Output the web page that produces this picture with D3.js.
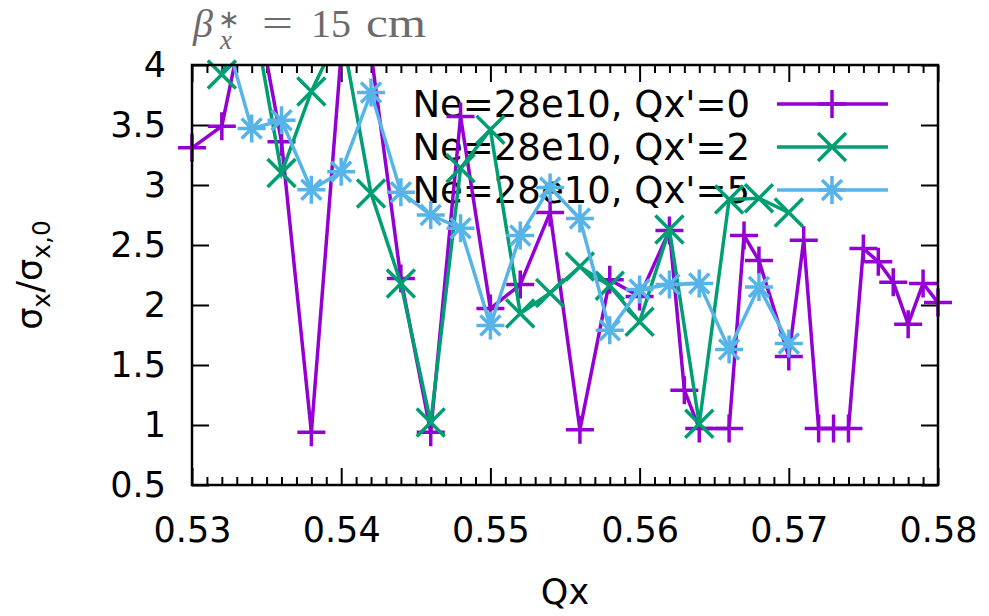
<!DOCTYPE html>
<html><head><meta charset="utf-8">
<script src="https://cdn.jsdelivr.net/npm/d3@7"></script>
<style>
body{margin:0;background:#fff;}
</style></head>
<body>
<svg id="c" width="989" height="616"></svg>
<script>
// ---- data ----
const qxPurple = [0.530,0.532,0.534,0.536,0.538,0.540,0.542,0.544,0.546,0.548,0.550,0.552,0.554,0.556,0.558,0.560,0.562,0.563,0.564,0.566,0.567,0.568,0.570,0.571,0.572,0.573,0.574,0.575,0.576,0.577,0.578,0.579,0.580];
const valPurple = [3.31,3.49,4.7,3.36,0.94,4.1,4.1,2.22,0.94,3.57,1.97,2.17,2.77,0.96,2.21,2.07,2.62,1.29,0.97,0.97,2.58,2.37,1.57,2.54,0.97,0.97,0.97,2.47,2.36,2.19,1.84,2.18,2.02];
const qxGreen = [0.532,0.534,0.536,0.538,0.540,0.542,0.544,0.546,0.548,0.550,0.552,0.554,0.556,0.558,0.560,0.562,0.564,0.566,0.568,0.570];
const valGreen = [3.92,4.5,3.1,3.78,4.3,2.93,2.18,1.02,3.14,3.46,1.93,2.10,2.32,2.16,1.86,2.63,1.01,2.88,2.89,2.77];
const qxBlue = [0.532,0.534,0.536,0.538,0.540,0.542,0.544,0.546,0.548,0.550,0.552,0.554,0.556,0.558,0.560,0.562,0.564,0.566,0.568,0.570];
const valBlue = [4.35,3.47,3.54,2.96,3.11,3.77,2.94,2.75,2.64,1.83,2.58,2.98,2.72,1.79,2.13,2.17,2.18,1.63,2.15,1.68];
const seriesNames = ["Ne=28e10, Qx'=0","Ne=28e10, Qx'=2","Ne=28e10, Qx'=5"];
const seriesColors = ["#9400d3","#009e73","#56b4e9"];
const seriesMarkers = ["plus","cross","star"];
const xTickVals = [0.53,0.54,0.55,0.56,0.57,0.58];
const xTickLabels = ["0.53","0.54","0.55","0.56","0.57","0.58"];
const yTickVals = [0.5,1,1.5,2,2.5,3,3.5,4];
const yTickLabels = ["0.5","1","1.5","2","2.5","3","3.5","4"];

const SANS = "'DejaVu Sans',sans-serif";
const SERIF = "'Liberation Serif','Times New Roman',serif";
const svg = d3.select("#c");
const L=192,R=938,T=65,B=485;
const x = d3.scaleLinear().domain([0.53,0.58]).range([L,R]);
const y = d3.scaleLinear().domain([0.5,4]).range([B,T]);

svg.append("defs").append("clipPath").attr("id","clip")
  .append("rect").attr("x",L).attr("y",T).attr("width",R-L).attr("height",B-T);

// axes
const minorVals = d3.range(0,51).map(i=>0.53+i*0.001).filter(v=>Math.abs(Math.round(v*100)-v*100)>1e-6);
function styleAxis(g){ g.select(".domain").remove(); g.selectAll("line").attr("stroke","#000").attr("stroke-width",2); g.selectAll("text").style("font-size","35px").style("fill","#000").style("font-family",SANS); }
svg.append("g").attr("transform",`translate(0,${B})`)
  .call(d3.axisBottom(x).tickValues(xTickVals).tickFormat((d,i)=>xTickLabels[i]).tickSizeInner(-17).tickSizeOuter(0).tickPadding(32)).call(styleAxis);
svg.append("g").attr("transform",`translate(0,${B})`)
  .call(d3.axisBottom(x).tickValues(minorVals).tickFormat("").tickSizeInner(-8).tickSizeOuter(0)).call(styleAxis);
svg.append("g").attr("transform",`translate(0,${T})`)
  .call(d3.axisTop(x).tickValues(xTickVals).tickFormat("").tickSizeInner(-17).tickSizeOuter(0)).call(styleAxis);
svg.append("g").attr("transform",`translate(0,${T})`)
  .call(d3.axisTop(x).tickValues(minorVals).tickFormat("").tickSizeInner(-8).tickSizeOuter(0)).call(styleAxis);
svg.append("g").attr("transform",`translate(${L},0)`)
  .call(d3.axisLeft(y).tickValues(yTickVals).tickFormat((d,i)=>yTickLabels[i]).tickSizeInner(-17).tickSizeOuter(0).tickPadding(26)).call(styleAxis);
svg.append("g").attr("transform",`translate(${R},0)`)
  .call(d3.axisRight(y).tickValues(yTickVals).tickFormat("").tickSizeInner(-17).tickSizeOuter(0)).call(styleAxis);

// legend text (under data)
const legY=[104,147,190];
seriesNames.forEach((n,i)=>{
  svg.append("text").attr("x",750).attr("y",legY[i]).attr("dy","0.35em").attr("text-anchor","end")
    .style("font-size","37px").style("font-family",SANS).style("fill","#000").text(n);
});

function marker(g,type,cx,cy,col){
  const h=14, d=10;
  let p="";
  if(type==="plus"||type==="star") p+=`M${cx-h},${cy}H${cx+h}M${cx},${cy-h}V${cy+h}`;
  if(type==="cross") p+=`M${cx-h},${cy-h}L${cx+h},${cy+h}M${cx-h},${cy+h}L${cx+h},${cy-h}`;
  if(type==="star") p+=`M${cx-d},${cy-d}L${cx+d},${cy+d}M${cx-d},${cy+d}L${cx+d},${cy-d}`;
  g.append("path").attr("d",p).attr("stroke",col).attr("stroke-width",3.5).attr("fill","none");
}

const allQx=[qxPurple,qxGreen,qxBlue], allVal=[valPurple,valGreen,valBlue];
const line = d3.line().x(d=>x(d[0])).y(d=>y(d[1]));
allQx.forEach((qs,i)=>{
  const data = qs.map((q,j)=>[q,allVal[i][j]]);
  const g = svg.append("g");
  g.append("path").datum(data).attr("d",line).attr("fill","none").attr("stroke",seriesColors[i])
    .attr("stroke-width",3.5).attr("stroke-linejoin","miter").attr("clip-path","url(#clip)");
  data.filter(d=>d[1]<=4 && d[1]>=0.5).forEach(d=>marker(g,seriesMarkers[i],x(d[0]),y(d[1]),seriesColors[i]));
  // legend sample
  g.append("line").attr("x1",777).attr("x2",888).attr("y1",legY[i]).attr("y2",legY[i]).attr("stroke",seriesColors[i]).attr("stroke-width",3.5);
  marker(g,seriesMarkers[i],832,legY[i],seriesColors[i]);
});

// frame
svg.append("rect").attr("x",L).attr("y",T).attr("width",R-L).attr("height",B-T).attr("fill","none").attr("stroke","#000").attr("stroke-width",2.5);

// axis labels
svg.append("text").attr("x",565).attr("y",604).attr("text-anchor","middle")
  .style("font-size","35px").style("font-family",SANS).text("Qx");
const yl = svg.append("text").attr("transform","translate(42,275) rotate(-90)").attr("text-anchor","middle")
  .style("font-size","35px").style("font-family",SANS);
yl.append("tspan").text("σ");
yl.append("tspan").style("font-size","25px").attr("dy",8).text("x");
yl.append("tspan").attr("dy",-8).text("/σ");
yl.append("tspan").style("font-size","25px").attr("dy",8).text("x,0");

// title (LaTeX-like label, one text element with positioned pieces)
const tt = svg.append("text").style("font-family",SERIF).style("fill","#6b6b6b").style("font-size","40px");
tt.append("tspan").attr("x",193).attr("y",37).style("font-style","italic").text("β");
tt.append("tspan").attr("x",218).attr("y",28).style("font-size","26px").text("∗");
tt.append("tspan").attr("x",220).attr("y",49).style("font-size","27px").style("font-style","italic").text("x");
tt.append("tspan").attr("x",262).attr("y",37).attr("textLength",31).attr("lengthAdjust","spacingAndGlyphs").text("=");
tt.append("tspan").attr("x",311).attr("y",37).text("15");
tt.append("tspan").attr("x",366).attr("y",37).attr("textLength",60).attr("lengthAdjust","spacingAndGlyphs").text("cm");
</script>
</body></html>
